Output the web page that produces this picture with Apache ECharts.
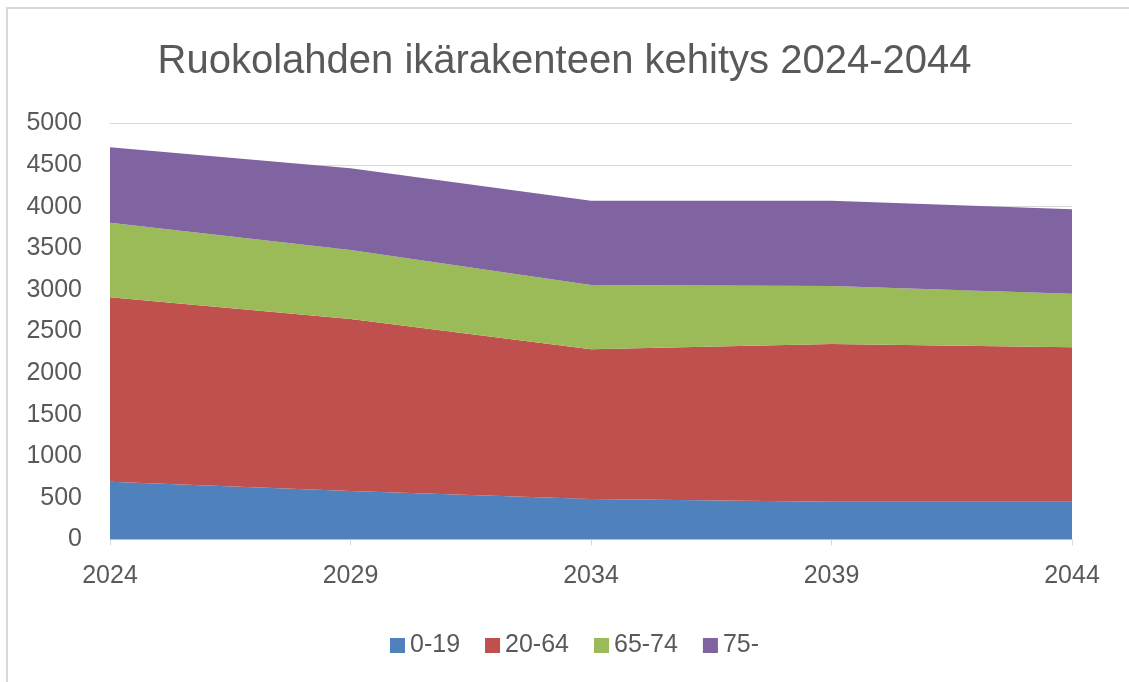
<!DOCTYPE html>
<html>
<head>
<meta charset="utf-8">
<script src="https://cdn.jsdelivr.net/npm/echarts@6/dist/echarts.min.js"></script>
<style>html,body{margin:0;padding:0;background:#fff;}#c{width:1129px;height:682px;}</style>
</head>
<body>
<div id="c"></div>
<script>
const years = ['2024', '2029', '2034', '2039', '2044'];
const seriesNames = ['0-19', '20-64', '65-74', '75-'];
const age0_19 = [695, 583, 487, 455, 455];
const age20_64 = [2216, 2067, 1799, 1895, 1855];
const age65_74 = [897, 830, 773, 697, 644];
const age75 = [906, 982, 1013, 1025, 1015];
const colors = ['#4F81BD', '#C0504D', '#9BBB59', '#8064A2'];

const allData = [age0_19, age20_64, age65_74, age75];
const font = '"Liberation Sans", Arial, sans-serif';
const chart = echarts.init(document.getElementById('c'), null, {renderer: 'canvas'});
chart.setOption({
  animation: false,
  backgroundColor: '#fff',
  color: colors,
  graphic: [{
    type: 'polyline', z: 100, silent: true,
    shape: {points: [[7, 700], [7, 8], [1140, 8]]},
    style: {fill: 'none', stroke: '#d9d9d9', lineWidth: 2}
  }],
  title: {
    text: 'Ruokolahden ikärakenteen kehitys 2024-2044',
    left: 'center', top: 37,
    textStyle: {fontFamily: font, fontSize: 40, fontWeight: 'normal', color: '#595959'}
  },
  legend: {
    data: seriesNames,
    left: 385, top: 628,
    itemWidth: 15, itemHeight: 15, itemGap: 25,
    icon: 'rect',
    textStyle: {fontFamily: font, fontSize: 25, color: '#595959'}
  },
  grid: {left: 110, right: 57, top: 123.5, bottom: 142.5, containLabel: false},
  xAxis: {
    type: 'category', data: years, boundaryGap: false,
    axisLine: {lineStyle: {color: '#d9d9d9', width: 1}},
    axisTick: {show: true, length: 6, lineStyle: {color: '#d9d9d9'}},
    axisLabel: {fontFamily: font, fontSize: 25, color: '#595959', margin: 24}
  },
  yAxis: {
    type: 'value', min: 0, max: 5000, interval: 500,
    axisLine: {show: false}, axisTick: {show: false},
    splitLine: {lineStyle: {color: '#d9d9d9', width: 1}},
    axisLabel: {fontFamily: font, fontSize: 25, color: '#595959', margin: 28,
      formatter: v => String(v)}
  },
  series: seriesNames.map((n, i) => ({
    name: n, type: 'line', stack: 'total', data: allData[i],
    symbol: 'none', lineStyle: {width: 0},
    areaStyle: {color: colors[i], opacity: 1},
    itemStyle: {color: colors[i]}
  }))
});
</script>
</body>
</html>
